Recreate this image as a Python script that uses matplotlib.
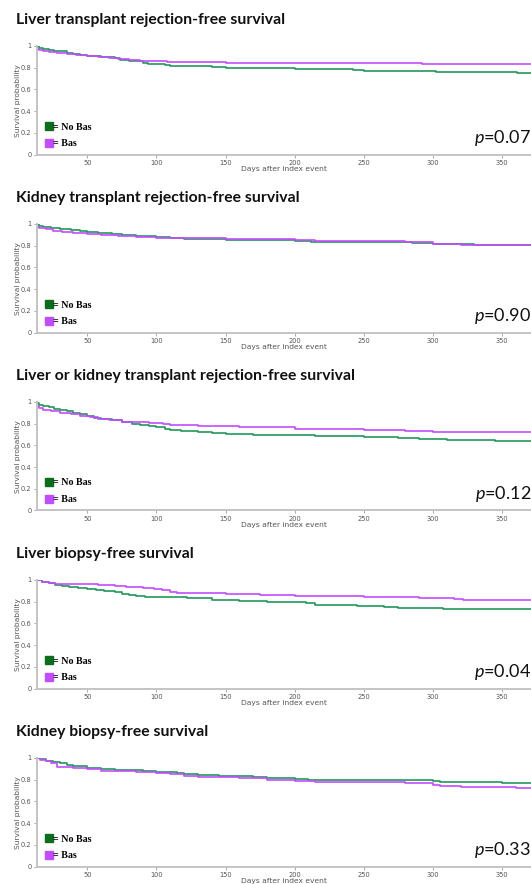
import matplotlib
matplotlib.use("Agg")
import matplotlib.pyplot as plt
from matplotlib.lines import Line2D

plt.rcParams["mathtext.fontset"] = "custom"
plt.rcParams["mathtext.it"] = "Lato:italic"
plt.rcParams["mathtext.rm"] = "Lato"

# --- data (Kaplan-Meier step points) ---
titles = [
    "Liver transplant rejection-free survival",
    "Kidney transplant rejection-free survival",
    "Liver or kidney transplant rejection-free survival",
    "Liver biopsy-free survival",
    "Kidney biopsy-free survival",
]
p_values = ["0.07", "0.90", "0.12", "0.04", "0.33"]

# No Bas (green)
nobas_days = [
    [13, 15, 18, 22, 26, 30, 35, 40, 45, 50, 55, 60, 65, 70, 74, 80, 86, 90, 94, 100, 106, 110,
     130, 140, 150, 165, 200, 215, 242, 250, 270, 302, 361, 372],
    [13, 15, 18, 24, 30, 38, 45, 50, 58, 68, 75, 85, 100, 110, 120, 135, 150, 175, 200, 212,
     260, 285, 300, 330, 345, 372],
    [13, 15, 18, 22, 26, 30, 35, 40, 45, 50, 55, 60, 68, 75, 82, 88, 95, 100, 106, 110, 118, 130,
     140, 150, 170, 200, 215, 250, 275, 290, 310, 345, 372],
    [13, 17, 22, 27, 32, 37, 43, 50, 56, 62, 70, 75, 80, 85, 92, 115, 122, 140, 160, 180, 195,
     208, 215, 245, 265, 275, 300, 307, 372],
    [13, 16, 20, 25, 30, 35, 40, 50, 60, 70, 90, 100, 115, 120, 130, 145, 170, 180, 200, 210,
     280, 300, 305, 350, 372],
]
nobas_surv = [
    [1.0, 0.985, 0.975, 0.965, 0.955, 0.95, 0.94, 0.93, 0.92, 0.91, 0.905, 0.90, 0.895, 0.89, 0.875,
     0.865, 0.86, 0.845, 0.835, 0.83, 0.825, 0.82, 0.815, 0.81, 0.80, 0.795, 0.79, 0.785, 0.775,
     0.77, 0.767, 0.76, 0.755, 0.755],
    [1.0, 0.985, 0.975, 0.965, 0.955, 0.945, 0.935, 0.925, 0.915, 0.905, 0.895, 0.89, 0.88, 0.875,
     0.865, 0.86, 0.855, 0.85, 0.845, 0.835, 0.83, 0.825, 0.815, 0.81, 0.805, 0.805],
    [0.99, 0.975, 0.96, 0.95, 0.935, 0.925, 0.915, 0.90, 0.885, 0.87, 0.855, 0.845, 0.835, 0.82,
     0.80, 0.79, 0.775, 0.765, 0.755, 0.74, 0.73, 0.72, 0.71, 0.705, 0.70, 0.695, 0.69, 0.675,
     0.665, 0.655, 0.65, 0.645, 0.645],
    [1.0, 0.985, 0.97, 0.955, 0.945, 0.935, 0.925, 0.915, 0.905, 0.895, 0.885, 0.875, 0.865, 0.855,
     0.845, 0.84, 0.83, 0.82, 0.81, 0.80, 0.795, 0.785, 0.77, 0.76, 0.755, 0.745, 0.74, 0.73, 0.73],
    [1.0, 0.99, 0.975, 0.965, 0.95, 0.935, 0.925, 0.91, 0.895, 0.885, 0.88, 0.875, 0.865, 0.85,
     0.84, 0.83, 0.825, 0.815, 0.81, 0.80, 0.795, 0.785, 0.775, 0.765, 0.765],
]

# Bas (purple)
bas_days = [
    [13, 15, 18, 22, 28, 35, 42, 50, 58, 66, 72, 80, 88, 100, 108, 150, 200, 292, 330, 372],
    [13, 15, 20, 25, 32, 40, 50, 60, 72, 85, 100, 125, 150, 175, 200, 215, 260, 280, 300, 320,
     335, 372],
    [13, 15, 18, 24, 30, 38, 45, 52, 58, 66, 75, 85, 95, 105, 110, 130, 145, 160, 200, 250, 280,
     300, 320, 372],
    [13, 17, 22, 27, 45, 58, 70, 78, 90, 98, 104, 110, 115, 150, 175, 200, 215, 250, 290, 315,
     322, 372],
    [13, 16, 20, 24, 28, 40, 50, 60, 85, 100, 110, 120, 130, 160, 180, 200, 215, 280, 300, 305,
     320, 350, 360, 372],
]
bas_surv = [
    [0.975, 0.96, 0.95, 0.945, 0.935, 0.93, 0.92, 0.905, 0.895, 0.89, 0.88, 0.875, 0.865, 0.86,
     0.85, 0.845, 0.84, 0.835, 0.83, 0.83],
    [0.975, 0.96, 0.95, 0.935, 0.925, 0.915, 0.905, 0.895, 0.885, 0.88, 0.875, 0.87, 0.865, 0.86,
     0.85, 0.845, 0.84, 0.835, 0.82, 0.81, 0.805, 0.805],
    [0.96, 0.945, 0.93, 0.915, 0.90, 0.89, 0.875, 0.86, 0.845, 0.835, 0.82, 0.815, 0.805, 0.80,
     0.785, 0.78, 0.775, 0.765, 0.755, 0.745, 0.735, 0.725, 0.72, 0.72],
    [1.0, 0.985, 0.975, 0.965, 0.96, 0.955, 0.945, 0.935, 0.925, 0.915, 0.905, 0.89, 0.88, 0.87,
     0.86, 0.855, 0.85, 0.845, 0.835, 0.825, 0.815, 0.815],
    [1.0, 0.985, 0.97, 0.95, 0.915, 0.905, 0.895, 0.88, 0.87, 0.865, 0.85, 0.835, 0.825, 0.815,
     0.80, 0.79, 0.775, 0.765, 0.75, 0.74, 0.735, 0.73, 0.725, 0.725],
]

GREEN_LINE = "#23965a"
GREEN_BOX = "#0b6e1a"
PURPLE = "#c24cff"
GREY = "#555555"

W, H = 531, 884
fig = plt.figure(figsize=(W / 100, H / 100), dpi=100)

# axes top edges in pixels
tops = [46, 224, 402, 580, 758]
ax_h = 108.5
left_px = 36.7

for i, title in enumerate(titles):
    top = tops[i]
    ax = fig.add_axes([left_px / W, 1 - (top + ax_h) / H, (W - left_px) / W, ax_h / H])
    ax.step(nobas_days[i], nobas_surv[i], where="post", color=GREEN_LINE, lw=1.2)
    ax.step(bas_days[i], bas_surv[i], where="post", color=PURPLE, lw=1.2)

    ax.set_xlim(13.4, 371)
    ax.set_ylim(0, 1)
    ax.set_xticks([50, 100, 150, 200, 250, 300, 350])
    ax.set_yticks([0, 0.2, 0.4, 0.6, 0.8, 1])
    ax.set_yticklabels(["0", "0.2", "0.4", "0.6", "0.8", "1"])
    for s in ["top", "right"]:
        ax.spines[s].set_visible(False)
    for s in ["left", "bottom"]:
        ax.spines[s].set_color("#c4c4c4")
        ax.spines[s].set_linewidth(1.4)
    ax.tick_params(length=2, width=0.6, color="#999999", labelsize=4.8,
                   labelcolor=GREY, pad=1.8)
    ax.set_xlabel("Days after index event", fontsize=5.4, color=GREY, labelpad=0.5)
    ax.set_ylabel("Survival probability", fontsize=5.4, color=GREY, labelpad=0)

    fig.text(16 / W, 1 - (top - 26) / H, title, fontsize=11.3, fontweight="bold",
             family="Lato", va="center", ha="left", color="#111111")

    ax.text(1.0, 0.15, f"$p$={p_values[i]}", transform=ax.transAxes,
            ha="right", va="center", fontsize=13, family="Lato", color="#111111")

    handles = [
        Line2D([], [], marker="s", ls="none", markersize=6, color=GREEN_BOX),
        Line2D([], [], marker="s", ls="none", markersize=6, color=PURPLE),
    ]
    ax.legend(handles, ["= No Bas", "= Bas"], loc="lower left",
              bbox_to_anchor=(0.0, 0.0), frameon=False, handletextpad=-0.2,
              handlelength=1.2, labelspacing=0.8, borderaxespad=0.2,
              prop={"family": "Liberation Serif", "weight": "bold", "size": 7.2})

fig.savefig("out.png", dpi=100)
